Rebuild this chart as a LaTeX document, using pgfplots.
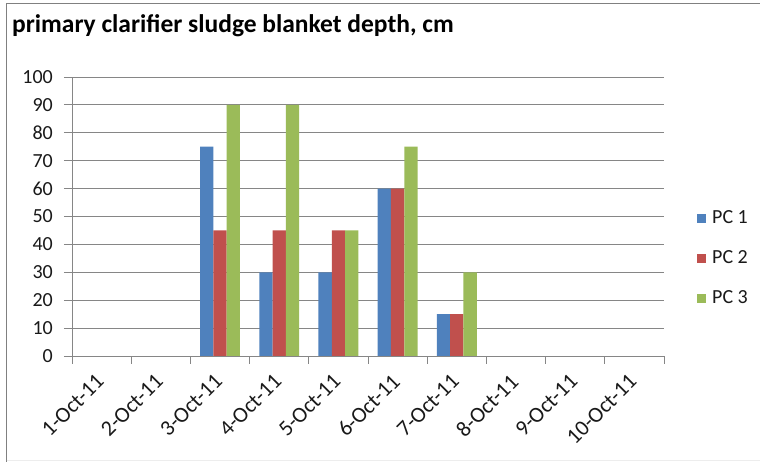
\documentclass[border=0pt]{standalone}
\usepackage{pgfplots}
\pgfplotsset{compat=1.18}
\usepackage{fontspec}
\setmainfont{Carlito}

\definecolor{pcblue}{HTML}{4F81BD}
\definecolor{pcred}{HTML}{C0504D}
\definecolor{pcgreen}{HTML}{9BBB59}
\definecolor{gridgray}{HTML}{868686}
\definecolor{framegray}{HTML}{808080}

\begin{document}
\begin{tikzpicture}
\useasboundingbox (0pt,0pt) rectangle (760pt,462pt);
% chart frame
\draw[framegray, line width=1.6pt] (6.5pt,-2pt) -- (6.5pt,458.5pt) -- (770pt,458.5pt);
\draw[black!7, line width=0.8pt] (6.5pt,1.5pt) -- (770pt,1.5pt);
% title
\node[anchor=base west, inner sep=0pt, font=\fontsize{25.5}{30}\selectfont\bfseries] at (12pt,429pt) {primary clarifier sludge blanket depth, cm};

\begin{axis}[
  at={(72pt,106pt)}, anchor=south west,
  scale only axis, width=592pt, height=279pt,
  xmin=-0.5, xmax=9.5, ymin=0, ymax=100,
  axis lines*=left,
  axis line style={gridgray, line width=0.8pt},
  ybar=0pt, bar width=13.3pt,
  ytick={0,10,...,100},
  xtick={0,...,9},
  xticklabels={1-Oct-11,2-Oct-11,3-Oct-11,4-Oct-11,5-Oct-11,6-Oct-11,7-Oct-11,8-Oct-11,9-Oct-11,10-Oct-11},
  minor xtick={-0.5,0.5,...,9.5},
  tick align=outside,
  major tick length=8pt, minor tick length=8pt,
  xtick style={draw=none},
  minor x tick style={draw=gridgray, line width=0.8pt},
  ytick style={draw=gridgray, line width=0.8pt},
  ymajorgrids, grid style={gridgray, line width=0.8pt},
  /pgf/number format/assume math mode=true,
  tick label style={font=\fontsize{20}{24}\selectfont, text=black!90},
  yticklabel style={anchor=east, inner sep=0pt, xshift=-11pt},
  % shifts below act along the rotated label axes
  xticklabel style={font=\fontsize{22}{26}\selectfont, rotate=45, anchor=east, inner sep=0pt, xshift=-10.8pt, yshift=-8.8pt},
  legend style={at={(1,0.348)}, anchor=west, xshift=33pt, draw=none, fill=none,
    font=\fontsize{20}{24}\selectfont, inner sep=0pt, row sep=25pt,
    nodes={inner sep=0pt, text height=12pt, text depth=3pt, text=black!90}},
  legend cell align=left,
  legend image code/.code={\fill[#1] (0pt,-4.5pt) rectangle (9pt,4.5pt); \path (15pt,0pt);},
]
\addplot[fill=pcblue, draw=none] coordinates {(2,75) (3,30) (4,30) (5,60) (6,15)};
\addplot[fill=pcred, draw=none] coordinates {(2,45) (3,45) (4,45) (5,60) (6,15)};
\addplot[fill=pcgreen, draw=none] coordinates {(2,90) (3,90) (4,45) (5,75) (6,30)};
\legend{PC 1, PC 2, PC 3}
\end{axis}
\end{tikzpicture}
\end{document}
